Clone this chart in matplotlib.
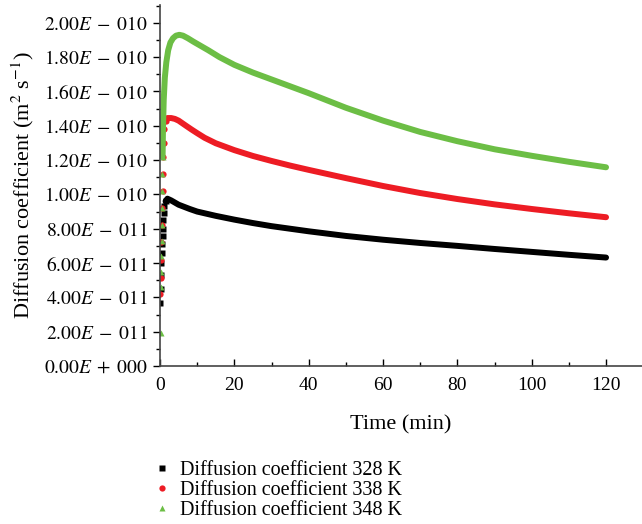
import numpy as np
import matplotlib
matplotlib.use("Agg")
import matplotlib.pyplot as plt
from matplotlib.ticker import FixedLocator, MultipleLocator

plt.rcParams['font.family'] = ['Liberation Serif', 'DejaVu Serif']
plt.rcParams['mathtext.fontset'] = 'stix'

# early (rising) points, drawn as separate markers
t_early_328 = [0.1, 0.2, 0.3, 0.4, 0.5, 0.6, 0.7, 0.8, 0.9, 1.0, 1.2, 1.5]
d_early_328 = [0.37, 0.45, 0.53, 0.60, 0.66, 0.71, 0.76, 0.80, 0.85, 0.89, 0.93, 0.96]
t_early_338 = [0.1, 0.2, 0.3, 0.4, 0.5, 0.6, 0.7, 0.8, 0.9, 1.0, 1.2, 1.5]
d_early_338 = [0.42, 0.51, 0.62, 0.72, 0.82, 0.92, 1.02, 1.12, 1.22, 1.30, 1.38, 1.43]
t_early_348 = [0.15, 0.3, 0.35, 0.4, 0.45, 0.5, 0.55, 0.6, 0.65, 0.7]
d_early_348 = [0.19, 0.46, 0.55, 0.64, 0.73, 0.82, 0.92, 1.02, 1.12, 1.22]

# main curves (units of 1e-10 m^2/s)
t_328 = [1.5, 2, 3, 5, 8, 10, 12, 15, 20, 25, 30, 35, 40, 50, 60, 70, 80, 90, 100, 110, 120]
d_328 = [0.96, 0.975, 0.965, 0.94, 0.915, 0.90, 0.89, 0.875, 0.853, 0.833, 0.815, 0.80,
         0.785, 0.758, 0.736, 0.717, 0.70, 0.682, 0.665, 0.648, 0.632]
t_338 = [1.5, 2, 3, 4, 5, 6, 7, 8.5, 10, 12, 15, 20, 25, 30, 35, 40, 50, 60, 70, 80, 90,
         100, 110, 120]
d_338 = [1.43, 1.445, 1.445, 1.44, 1.43, 1.415, 1.40, 1.378, 1.357, 1.33, 1.298, 1.258,
         1.224, 1.195, 1.168, 1.143, 1.095, 1.049, 1.008, 0.973, 0.942, 0.915, 0.89, 0.867]
t_348 = [0.7, 0.8, 1.0, 1.3, 1.7, 2.2, 2.8, 3.5, 4.3, 5.2, 6.2, 7.5, 9, 11, 13, 16, 20,
         25, 30, 35, 40, 50, 60, 70, 80, 90, 100, 110, 120]
d_348 = [1.22, 1.38, 1.55, 1.68, 1.77, 1.84, 1.885, 1.91, 1.925, 1.93, 1.925, 1.91, 1.89,
         1.865, 1.84, 1.80, 1.755, 1.71, 1.67, 1.63, 1.59, 1.505, 1.43, 1.364, 1.31,
         1.263, 1.225, 1.19, 1.158]

labels = ["Diffusion coefficient 328 K", "Diffusion coefficient 338 K",
          "Diffusion coefficient 348 K"]
colors = ["#000000", "#ed1c24", "#6cbe45"]
markers = ["s", "o", "^"]

fig = plt.figure(figsize=(6.42, 5.24), dpi=100)
ax = fig.add_axes([160 / 642, 1 - 366 / 524, 1 - 160 / 642, (366 - 5) / 524])

early = [(t_early_328, d_early_328), (t_early_338, d_early_338), (t_early_348, d_early_348)]
main = [(t_328, d_328), (t_338, d_338), (t_348, d_348)]
handles = []
for (te, de), (tm, dm), c, m, lab in zip(early, main, colors, markers, labels):
    ax.plot(tm, np.array(dm) * 1e-10, color=c, lw=4.3, solid_capstyle='round',
            solid_joinstyle='round')
    h, = ax.plot(te, np.array(de) * 1e-10, ls='none', marker=m, ms=4.5, color=c,
                 mec='none', label=lab)
    handles.append(h)

ax.set_xlim(0, (642 - 160) / 3.717)
ax.set_ylim(0, (366 - 5) / 171.6 * 1e-10)

ax.xaxis.set_major_locator(FixedLocator(np.arange(0, 121, 20)))
ax.xaxis.set_minor_locator(FixedLocator(np.arange(10, 121, 20)))
yt = np.arange(0, 2.01, 0.2) * 1e-10
ax.yaxis.set_major_locator(FixedLocator(yt))
ax.yaxis.set_minor_locator(MultipleLocator(0.1e-10))


def ylab(v):
    if v == 0:
        return r"$0.00E\;+\;000$"
    e = int(np.floor(np.log10(v) + 1e-9))
    m = v / 10 ** e
    return r"$%.2fE\;-\;%03d$" % (m, -e)


ax.set_yticklabels([ylab(v) for v in yt])
ax.tick_params(axis='y', which='major', direction='out', length=5, width=1, labelsize=14)
ax.tick_params(axis='y', which='minor', direction='out', length=3, width=1)
ax.tick_params(axis='x', which='major', direction='in', length=5, width=1, labelsize=14, pad=8)
ax.tick_params(axis='x', which='minor', direction='in', length=3, width=1)

for s in ['top', 'right']:
    ax.spines[s].set_visible(False)
for s in ['left', 'bottom']:
    ax.spines[s].set_color('#444444')
    ax.spines[s].set_linewidth(1.2)

ax.set_xlabel("Time (min)", fontsize=16, labelpad=15)
ax.set_ylabel(r"Diffusion coefficient (m$^2$ s$^{-1}$)", fontsize=16, labelpad=6)

fig.legend(handles=handles, labels=labels, loc='upper left',
           bbox_to_anchor=(146 / 642, 1 - 453 / 524), frameon=False,
           prop={'family': 'Liberation Serif', 'size': 14.5},
           handlelength=0.8, handletextpad=0.5, labelspacing=0.05, borderaxespad=0)

fig.savefig("out.png", dpi=100)
